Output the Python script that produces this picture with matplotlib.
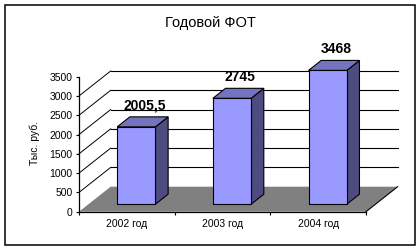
import matplotlib.pyplot as plt
from matplotlib.patches import Polygon, Rectangle

years = ["2002 год", "2003 год", "2004 год"]
values = [2005.5, 2745, 3468]
value_labels = ["2005,5", "2745", "3468"]
y_ticks = [0, 500, 1000, 1500, 2000, 2500, 3000, 3500]
wall_levels = [500, 1000, 1500, 2000, 2500, 3000]

plt.rcParams["font.family"] = ["Liberation Sans", "DejaVu Sans"]

fig = plt.figure(figsize=(4.2, 2.5), dpi=100)
ax = fig.add_axes([79 / 420, 38.3 / 250, 287 / 420, 135 / 250])
ax.set_xlim(0, len(years))
ax.set_ylim(0, 3500)

# oblique depth offset (x in categories, y in value units)
DX, DY = 0.331, 648


def p(x, y, d):
    return (x + d * DX, y + d * DY)


n = len(years)

# floor
floor = Polygon([p(0, 0, 0), p(n, 0, 0), p(n, 0, 1), p(0, 0, 1)],
                closed=True, facecolor="#808080", edgecolor="none",
                zorder=1, clip_on=False)
ax.add_patch(floor)
ax.plot(*zip(p(n, 0, 0), p(n, 0, 1)), color="black", lw=0.8,
        zorder=1.5, clip_on=False)

# side wall diagonals and back wall gridlines
for v in wall_levels:
    ax.plot(*zip(p(0, v, 0), p(0, v, 1)), color="black", lw=0.7,
            zorder=2, clip_on=False)
    ax.plot(*zip(p(0, v, 1), p(n, v, 1)), color="black", lw=0.8,
            zorder=2, clip_on=False)

# bars
w = 0.4
d0, d1 = 0.3, 0.7
for i, v in enumerate(values):
    x0 = i + 0.5 - w / 2
    x1 = i + 0.5 + w / 2
    front = [p(x0, 0, d0), p(x1, 0, d0), p(x1, v, d0), p(x0, v, d0)]
    top = [p(x0, v, d0), p(x1, v, d0), p(x1, v, d1), p(x0, v, d1)]
    side = [p(x1, 0, d0), p(x1, 0, d1), p(x1, v, d1), p(x1, v, d0)]
    for pts, col in [(side, "#4C4C80"), (top, "#7373BF"), (front, "#9999FF")]:
        ax.add_patch(Polygon(pts, closed=True, facecolor=col,
                             edgecolor="black", lw=0.8, zorder=3,
                             clip_on=False))
    ax.annotate(value_labels[i], xy=p(i + 0.5, v, 0.5), xytext=(1.5, 12),
                textcoords="offset points", ha="center", va="center",
                fontsize=10, fontweight="bold", zorder=5,
                annotation_clip=False)

for s in ["top", "right"]:
    ax.spines[s].set_visible(False)
for s in ["left", "bottom"]:
    ax.spines[s].set_linewidth(0.9)
    ax.spines[s].set_zorder(4)
ax.patch.set_visible(False)

ax.set_yticks(y_ticks)
ax.tick_params(axis="y", direction="out", length=2.2, width=0.8,
               labelsize=7.5, pad=2.4)
ax.set_xticks(range(n + 1))
ax.set_xticklabels([])
ax.set_xticks([i + 0.5 for i in range(n)], minor=True)
ax.set_xticklabels(years, minor=True)
ax.tick_params(axis="x", which="major", direction="out", length=2.2,
               width=0.8)
ax.tick_params(axis="x", which="minor", length=0, labelsize=7.5, pad=5.6)

fig.text(210 / 420, 1 - 22.7 / 250, "Годовой ФОТ", ha="center",
         va="center", fontsize=10.5)
fig.text(35 / 420, 1 - 143 / 250, "Тыс. руб.", rotation=90, ha="center",
         va="center", fontsize=7.5)

fig.add_artist(Rectangle((5.3 / 420, 5 / 250), 409.4 / 420, 239.7 / 250,
                         transform=fig.transFigure, fill=False,
                         edgecolor="black", lw=1.1))

fig.savefig("out.png", dpi=100, facecolor="white")
